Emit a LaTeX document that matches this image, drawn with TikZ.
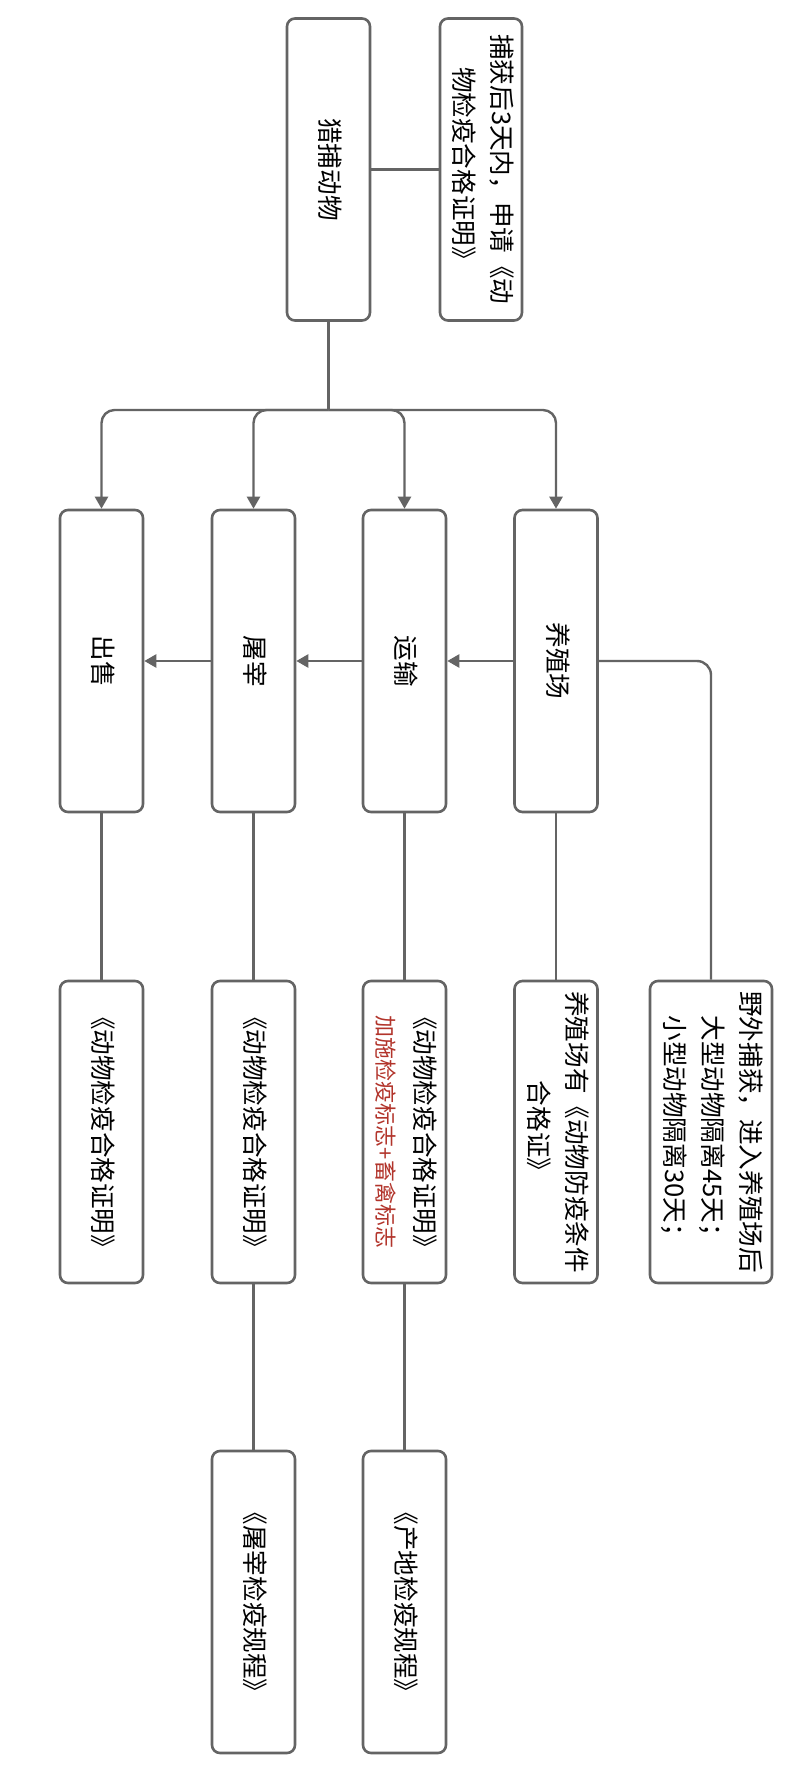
\documentclass[tikz,border=0pt]{standalone}
\usepackage{fontspec}
\usepackage{graphicx}
\newfontfamily\cjk{Noto Sans CJK SC}
\usetikzlibrary{arrows.meta}
\definecolor{lineg}{HTML}{646464}
\definecolor{redt}{RGB}{178,52,43}
\newcommand{\vtext}[1]{\rotatebox{-90}{\begin{tabular}{@{}c@{}}#1\end{tabular}}}
\begin{document}
\begin{tikzpicture}[x=0.5pt,y=-0.5pt,
  box/.style={draw=lineg, line width=1.3pt, rounded corners=4pt, fill=white,
    minimum width=41.5pt, minimum height=151pt, inner sep=0pt,
    font=\cjk\fontsize{12.8pt}{19pt}\selectfont, text=black},
  link/.style={draw=lineg, line width=1.2pt},
  arr/.style={link, -{Triangle[length=6pt,width=6.5pt]}}]
\fill[white] (0,0) rectangle (787,1770);
\useasboundingbox (0,0) rectangle (787,1770);
% top row
\node[box] (hunt) at (328.5,169.5) {\vtext{猎捕动物}};
\node[box, minimum width=41pt] (apply) at (481,169.5) {\vtext{捕获后3天内，申请《动\\物检疫合格证明》}};
% row 1
\node[box] (sell) at (101.5,661) {\vtext{出售}};
\node[box] (slaughter) at (253.5,661) {\vtext{屠宰}};
\node[box] (transport) at (404.5,661) {\vtext{运输}};
\node[box] (farm) at (556,661) {\vtext{养殖场}};
% row 2
\node[box] (sellc) at (101.5,1132) {\vtext{《动物检疫合格证明》}};
\node[box] (slc) at (253.5,1132) {\vtext{《动物检疫合格证明》}};
\node[box] (trc) at (404.5,1132) {\vtext{《动物检疫合格证明》\\{\color{redt}\fontsize{11pt}{19pt}\selectfont 加施检疫标志+畜禽标志}}};
\node[box] (farmc) at (556,1132) {\vtext{养殖场有《动物防疫条件\\合格证》}};
\node[box, minimum width=61pt] (wild) at (711,1132) {\vtext{野外捕获，进入养殖场后\\大型动物隔离45天；\\小型动物隔离30天；}};
% row 3
\node[box] (slr) at (253.5,1602) {\vtext{《屠宰检疫规程》}};
\node[box] (trr) at (404.5,1602) {\vtext{《产地检疫规程》}};
% connectors
\draw[link] (hunt.east) -- (apply.west);
\coordinate (bus) at (328.5,410);
\draw[link] (hunt.south) -- (bus);
\foreach \n in {sell,slaughter,transport,farm}
  \draw[arr, rounded corners=6.5pt] (bus) -| (\n.north);
\draw[arr] (farm.west) -- (transport.east);
\draw[arr] (transport.west) -- (slaughter.east);
\draw[arr] (slaughter.west) -- (sell.east);
\draw[link, rounded corners=7pt] (farm.east) -| (wild.north);
\draw[link] (sell.south) -- (sellc.north);
\draw[link] (slaughter.south) -- (slc.north);
\draw[link] (transport.south) -- (trc.north);
\draw[link] (farm.south) -- (farmc.north);
\draw[link] (slc.south) -- (slr.north);
\draw[link] (trc.south) -- (trr.north);
\end{tikzpicture}
\end{document}
